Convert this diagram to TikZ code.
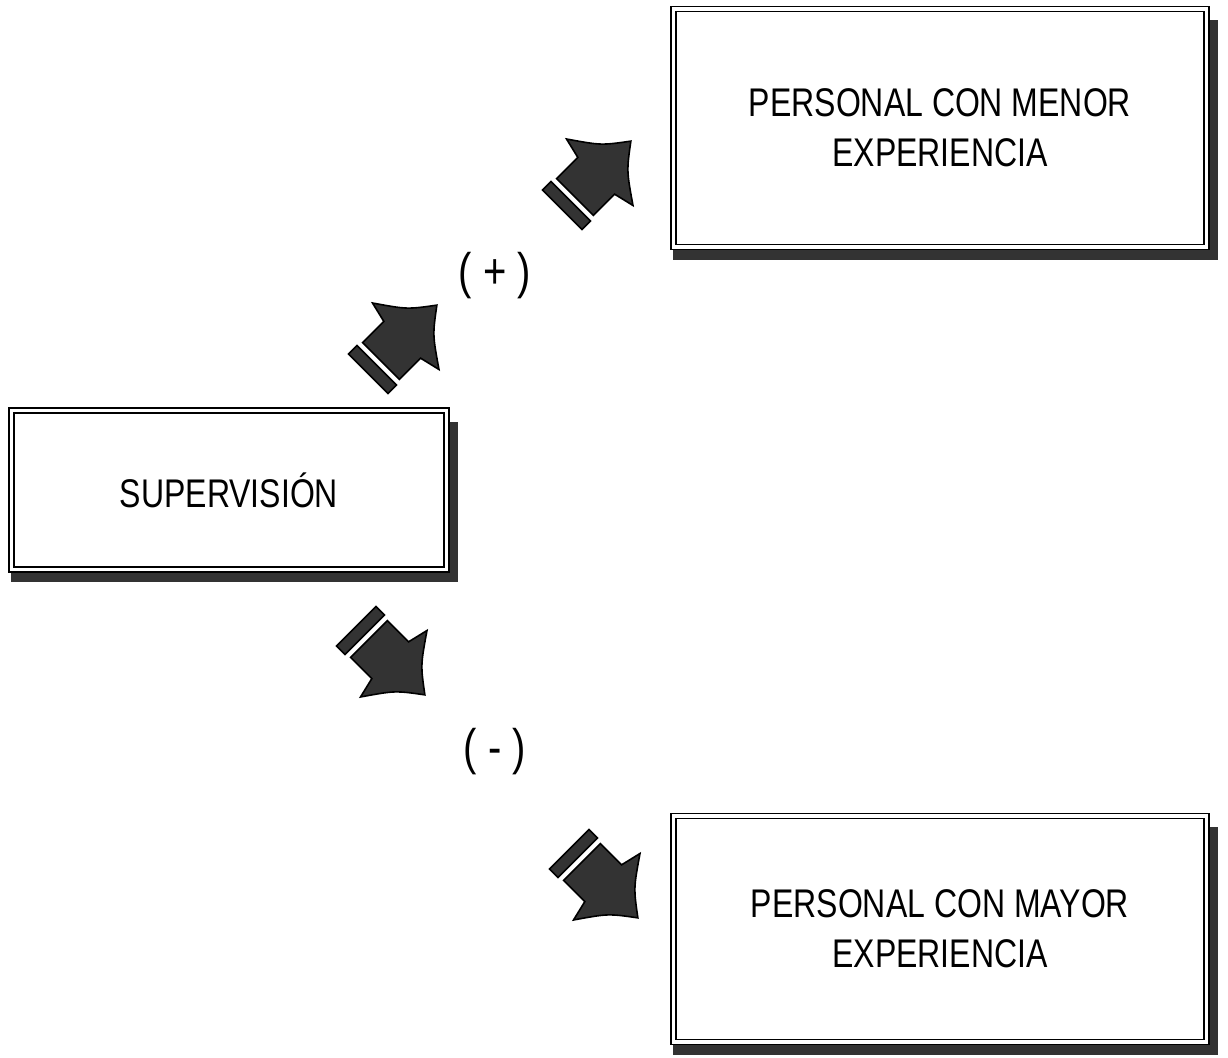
\documentclass[tikz,border=0pt]{standalone}
\usepackage{fontspec}
\newfontfamily\narrowsans[FakeStretch=0.8]{Liberation Sans}
\usetikzlibrary{backgrounds}

\tikzset{
    panel/.style={draw, double, line width=0.9pt, double distance=1.6pt, fill=white, align=center,
        font=\narrowsans\fontsize{20}{25}\selectfont},
    panelshadow/.style={fill=black!80},
    arrowfill/.style={fill=black!80, draw=black, line width=0.8pt},
    sign/.style={font=\narrowsans\fontsize{25}{30}\selectfont, inner sep=0pt},
    blockarrow/.pic={
        \filldraw[arrowfill] (0,-26) -- (30,-26) -- (35,-47) .. controls (55,-18) .. (79,0)
            .. controls (55,18) .. (35,47) -- (30,26) -- (0,26) -- cycle;
        \filldraw[arrowfill] (-18,-28) rectangle (-6,28);
    }
}

\begin{document}
\begin{tikzpicture}[x=0.5pt, y=-0.5pt]
    \useasboundingbox (0,0) rectangle (1228,1058);

    % Supervision box
    \node[panel, minimum width=217.5pt, minimum height=79.5pt] (sup) at (229,490) {SUPERVISIÓN};

    % Personal boxes
    \node[panel, minimum width=266.5pt, minimum height=119pt] (menor) at (940,128) {PERSONAL CON MENOR\\EXPERIENCIA};
    \node[panel, minimum width=266.5pt, minimum height=113pt] (mayor) at (940,929) {PERSONAL CON MAYOR\\EXPERIENCIA};

    % Shadows behind the boxes
    \begin{scope}[on background layer]
        \foreach \b in {sup,menor,mayor}
            \fill[panelshadow] ([yshift=-6pt]\b.south west) rectangle ([xshift=5.5pt,yshift=-6pt]\b.north east);
    \end{scope}

    % Signs
    \node[sign] (plus) at (495,276) {( + )};
    \node[sign] (minus) at (495,752) {( - )};

    % Block arrows
    \pic[rotate=45] at (575,197) {blockarrow};
    \pic[rotate=45] at (381,361) {blockarrow};
    \pic[rotate=-45] at (369,639) {blockarrow};
    \pic[rotate=-45] at (582,862) {blockarrow};
\end{tikzpicture}
\end{document}
